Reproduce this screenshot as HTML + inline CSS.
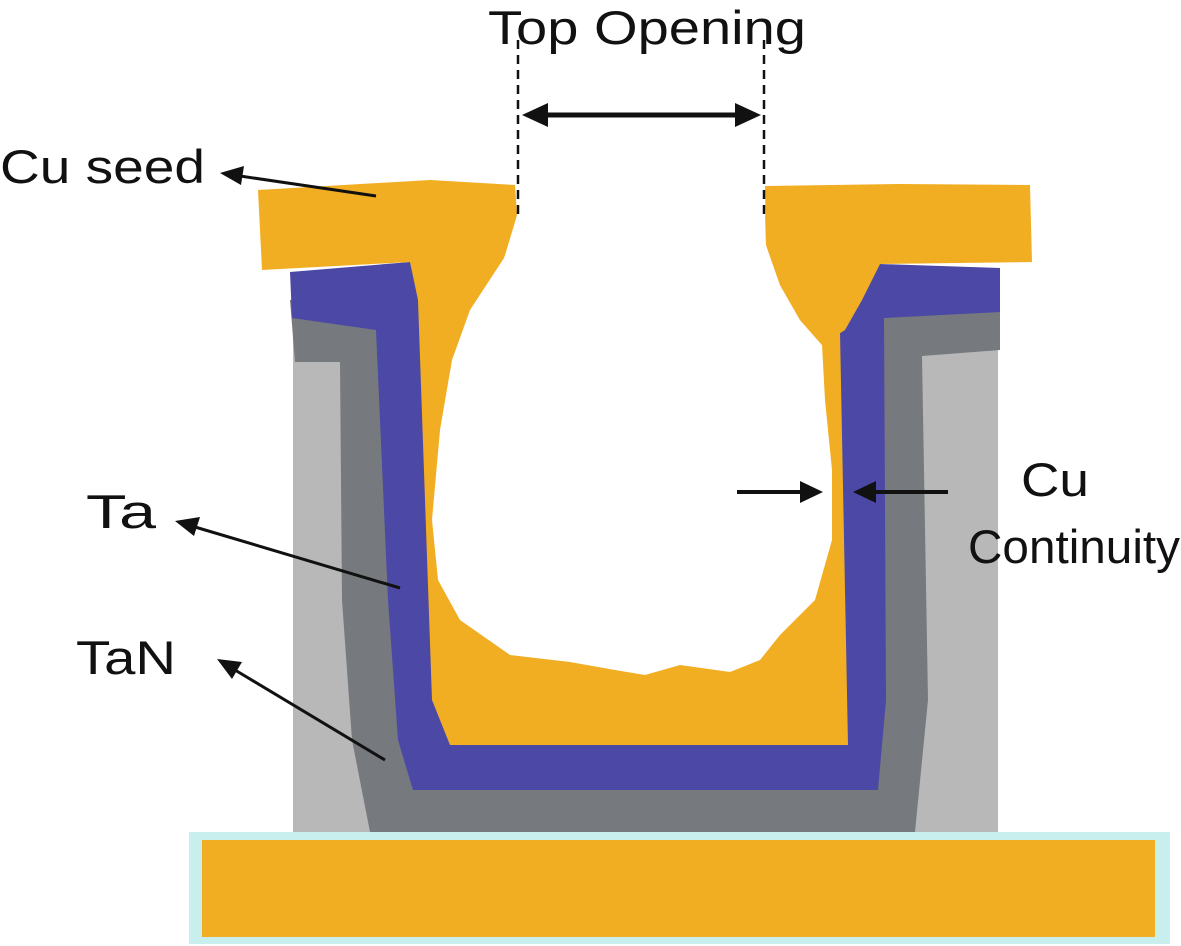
<!DOCTYPE html>
<html><head><meta charset="utf-8"><style>
html,body{margin:0;padding:0;background:#fff;}
svg{display:block;}
text{font-family:"Liberation Sans",Arial,sans-serif;font-size:47px;fill:#111;}
</style></head><body>
<svg width="1181" height="946" viewBox="0 0 1181 946" xmlns="http://www.w3.org/2000/svg">
<!-- bottom bar -->
<rect x="189" y="832" width="981" height="112" fill="#c8eeee"/>
<rect x="202" y="840" width="953" height="97" fill="#f2ae22"/>
<!-- light gray -->
<rect x="293" y="272" width="705" height="560" fill="#b8b8b8"/>
<!-- dark gray TaN -->
<polygon fill="#76797d" points="290,300 410,290 880,300 1000,305 1000,350 922,356 928,700 915,832 370,832 352,740 342,600 340,362 295,362"/>
<!-- purple Ta -->
<polygon fill="#4c48a6" points="290,272 410,262 880,264 1000,268 1000,312 884,318 886,700 878,790 413,790 398,740 388,600 376,330 292,318"/>
<!-- orange inner fill -->
<polygon fill="#f2ae22" points="410,262 520,215 765,215 862,300 840,332 848,745 450,745 432,700 418,300"/>
<!-- white void -->
<polygon fill="#ffffff" points="517,215 504,258 470,310 452,360 440,430 432,520 438,580 460,620 510,655 570,662 615,670 645,675 680,665 730,672 760,660 780,635 815,600 832,540 832,470 825,400 822,345 800,320 780,285 766,245 765,215"/>
<!-- top seed blobs -->
<polygon fill="#f2ae22" points="258,190 430,180 515,185 517,215 505,255 480,290 455,330 440,360 420,300 410,262 262,270"/>
<polygon fill="#f2ae22" points="765,186 900,184 1030,185 1032,262 880,264 862,300 845,330 822,345 800,320 780,285 766,245"/>
<!-- dashed lines -->
<line x1="518" y1="40" x2="518" y2="215" stroke="#111" stroke-width="2.5" stroke-dasharray="9,6"/>
<line x1="764" y1="40" x2="764" y2="215" stroke="#111" stroke-width="2.5" stroke-dasharray="9,6"/>
<!-- double arrow -->
<line x1="540" y1="115" x2="742" y2="115" stroke="#111" stroke-width="5"/>
<polygon fill="#111" points="522,115 548,103 548,127"/>
<polygon fill="#111" points="761,115 735,103 735,127"/>
<!-- Cu seed arrow -->
<line x1="376" y1="196" x2="240" y2="176" stroke="#111" stroke-width="3"/>
<polygon fill="#111" points="220,173 244,166 241,185"/>
<!-- Ta arrow -->
<line x1="400" y1="588" x2="195" y2="527" stroke="#111" stroke-width="3"/>
<polygon fill="#111" points="175,521 200,517 194,536"/>
<!-- TaN arrow -->
<line x1="385" y1="760" x2="235" y2="670" stroke="#111" stroke-width="3"/>
<polygon fill="#111" points="217,659 242,662 232,679"/>
<!-- Cu continuity arrows -->
<line x1="737" y1="492" x2="805" y2="492" stroke="#111" stroke-width="4"/>
<polygon fill="#111" points="823,492 800,481 800,503"/>
<line x1="948" y1="492" x2="872" y2="492" stroke="#111" stroke-width="4"/>
<polygon fill="#111" points="853,492 876,481 876,503"/>
<!-- labels -->
<text x="488" y="44" textLength="318" lengthAdjust="spacingAndGlyphs">Top Opening</text>
<text x="0" y="183" textLength="205" lengthAdjust="spacingAndGlyphs">Cu seed</text>
<text x="86" y="528" textLength="70" lengthAdjust="spacingAndGlyphs">Ta</text>
<text x="76" y="674" textLength="100" lengthAdjust="spacingAndGlyphs">TaN</text>
<text x="1021" y="496" textLength="68" lengthAdjust="spacingAndGlyphs">Cu</text>
<text x="968" y="563" textLength="212" lengthAdjust="spacingAndGlyphs">Continuity</text>
</svg>
</body></html>
